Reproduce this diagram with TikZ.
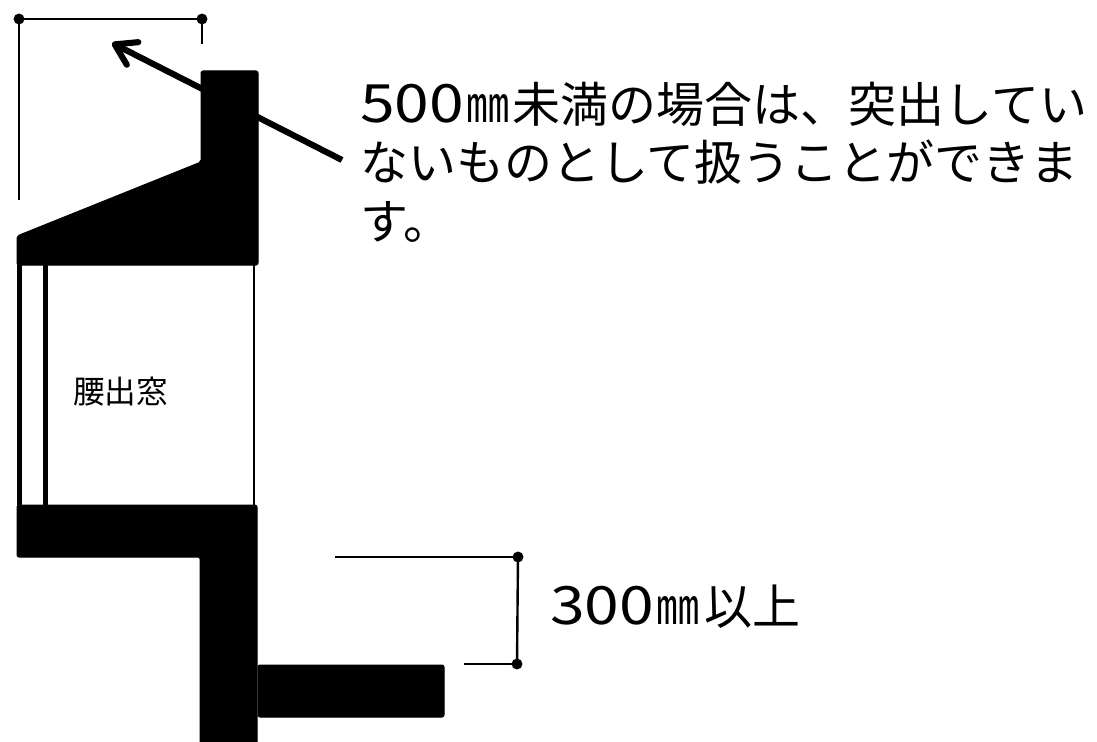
\documentclass[tikz,border=0pt]{standalone}
\usepackage{fontspec}
\usepackage{graphicx}
\setmainfont{Noto Sans CJK JP}
\usetikzlibrary{arrows.meta}
\newcommand{\narrowmm}{\scalebox{0.9}[1.05]{㎜}}
\newcommand{\widedigits}[1]{\scalebox{1.3}[1.1]{#1}}
\tikzset{
  x=0.75pt,y=-0.75pt,
  solid part/.style={fill=black,draw=black,line width=0.75pt,line join=round,rounded corners=1.5pt},
  dimline/.style={draw=black,line width=1.8pt},
  dimdot/.style={circle,fill=black,inner sep=0pt,minimum size=8.2pt},
  leader/.style={draw=black,line width=4.6pt,-{Straight Barb[length=15pt,width=19pt,line width=4.6pt,round]}},
  label big/.style={anchor=west,inner sep=0pt,font=\fontsize{36pt}{44pt}\selectfont,align=left},
  label small/.style={anchor=west,inner sep=0pt,font=\fontsize{23.7pt}{28pt}\selectfont}
}
\begin{document}
\begin{tikzpicture}
\useasboundingbox (0,0) rectangle (1097,742);
% arrow
\coordinate (arrowstart) at (342,160);
\coordinate (arrowtip) at (112,43);
\draw[leader] (arrowstart) -- (arrowtip);
% building section
\path[solid part] (201,71) -- (258,71) -- (258,265) -- (17,265) -- (17,236) -- (201,162) -- cycle;
\path[solid part] (17,505) -- (257,505) -- (257,745) -- (200,745) -- (200,557) -- (17,557) -- cycle;
\path[solid part] (258,665) -- (444,665) -- (444,717) -- (258,717) -- cycle;
% window
\draw[line width=3.6pt] (19.5,265) -- (19.5,505);
\draw[line width=3.6pt] (45.5,265) -- (45.5,505);
\draw[line width=0.9pt] (254,265) -- (254,505);
% top dimension
\node[dimdot] (d1) at (19,19) {};
\node[dimdot] (d2) at (202,19) {};
\coordinate (d1end) at (19,200);
\coordinate (d2end) at (202,44);
\draw[dimline] (d1.center) -- (d2.center);
\draw[dimline] (d1.center) -- (d1end);
\draw[dimline] (d2.center) -- (d2end);
% lower dimension
\node[dimdot] (d3) at (518,557) {};
\node[dimdot] (d4) at (517,664) {};
\coordinate (d3end) at (335,557);
\coordinate (d4end) at (464,664);
\draw[dimline] (d3.center) -- (d4.center);
\draw[dimline] (d3.center) -- (d3end);
\draw[dimline] (d4.center) -- (d4end);
% text
\node[label big] (note) at (360,162) {\widedigits{500}\hspace{2pt}\narrowmm\hspace{2pt}未満の場合は、突出してい\\ないものとして扱うことができま\\す。};
\node[label small] (win) at (73,392) {腰出窓};
\node[label big] (h300) at (550,607) {\widedigits{300}\hspace{2pt}\narrowmm\hspace{3pt}以上};
\end{tikzpicture}
\end{document}
